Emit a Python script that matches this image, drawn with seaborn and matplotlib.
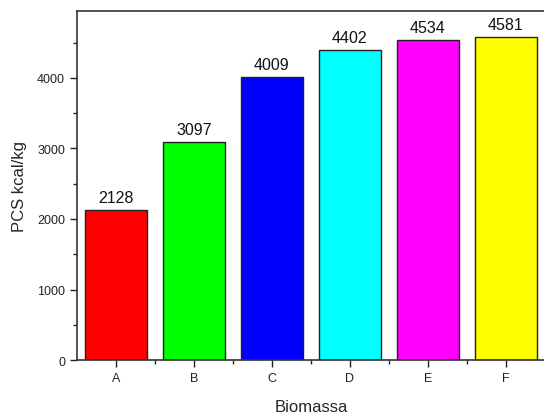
import pandas as pd
import matplotlib.pyplot as plt
import seaborn as sns
from matplotlib.ticker import MultipleLocator, FixedLocator

# Data
biomassa = ['A', 'B', 'C', 'D', 'E', 'F']
pcs = [2128, 3097, 4009, 4402, 4534, 4581]
colors = ['#ff0000', '#00ff00', '#0000ff', '#00ffff', '#ff00ff', '#ffff00']

df = pd.DataFrame({'Biomassa': biomassa, 'PCS': pcs})

sns.set_style('ticks')
plt.rcParams['font.family'] = ['Liberation Sans', 'DejaVu Sans']

fig = plt.figure(figsize=(5.44, 4.14), dpi=100)
ax = fig.add_axes([0.1415, 0.128, 0.86, 0.843])

sns.barplot(data=df, x='Biomassa', y='PCS', hue='Biomassa', palette=colors,
            saturation=1, width=0.8, edgecolor='#222222', linewidth=1.0,
            legend=False, ax=ax)

for i, v in enumerate(pcs):
    ax.text(i, v + 70, str(v), ha='center', va='bottom', fontsize=11.5, color='#111111')

ax.set_xlim(-0.5, 5.5)
ax.set_ylim(0, 4950)
ax.yaxis.set_major_locator(MultipleLocator(1000))
ax.yaxis.set_minor_locator(MultipleLocator(500))
ax.xaxis.set_minor_locator(FixedLocator([0.5, 1.5, 2.5, 3.5, 4.5]))
ax.tick_params(axis='both', which='major', length=5, width=1, labelsize=9,
               direction='out', colors='#222222')
ax.tick_params(axis='both', which='minor', length=3, width=1, direction='out')

ax.set_xlabel('Biomassa', fontsize=12, labelpad=11)
ax.set_ylabel('PCS kcal/kg', fontsize=12, labelpad=7)

for side in ['left', 'bottom', 'top']:
    ax.spines[side].set_linewidth(1.2)
    ax.spines[side].set_color('#333333')
ax.spines['right'].set_visible(False)

plt.savefig('out.png', dpi=100)
